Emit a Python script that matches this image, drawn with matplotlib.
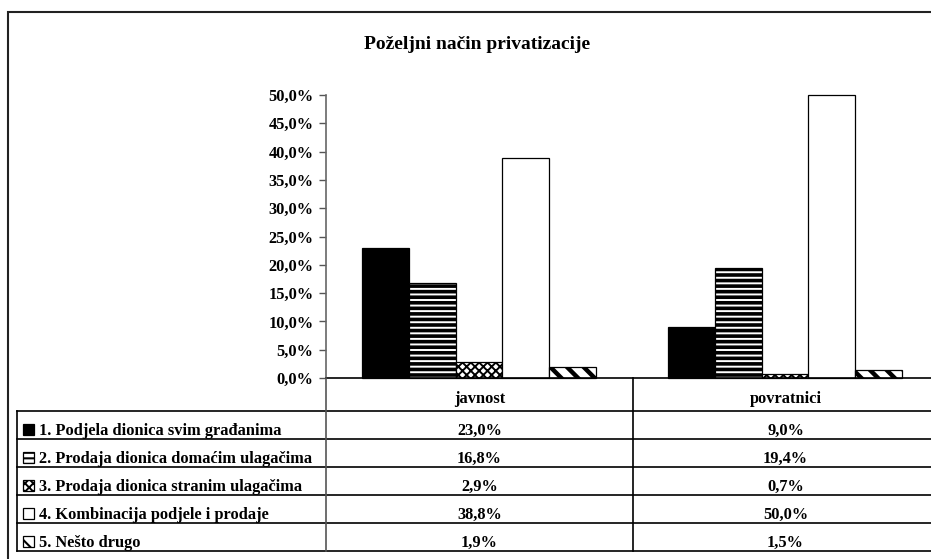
import matplotlib.pyplot as plt
from matplotlib.patches import Rectangle
from matplotlib.lines import Line2D

# datos del grafico
title = "Poželjni način privatizacije"
groups = ["javnost", "povratnici"]
options = [
    "1. Podjela dionica svim građanima",
    "2. Prodaja dionica domaćim ulagačima",
    "3. Prodaja dionica stranim ulagačima",
    "4. Kombinacija podjele i prodaje",
    "5. Nešto drugo",
]
javnost = [23.0, 16.8, 2.9, 38.8, 1.9]
povratnici = [9.0, 19.4, 0.7, 50.0, 1.5]
y_ticks = [0, 5, 10, 15, 20, 25, 30, 35, 40, 45, 50]

# estilo de cada serie: (relleno, hatch, grosor del hatch)
styles = [
    ("black", "", 1.0),
    ("white", "---", 2.6),
    ("white", "xxxx", 1.4),
    ("white", "", 1.0),
    ("white", "\\\\", 3.2),
]

plt.rcParams["font.family"] = ["Liberation Serif", "DejaVu Serif"]
plt.rcParams["font.weight"] = "bold"

W, H = 931, 559
FS = 11.8
fig = plt.figure(figsize=(W / 100, H / 100), dpi=100)


def fx(x):
    return x / W


def fy(y):
    return 1 - y / H


def fmt(v):
    return f"{v:.1f}%".replace(".", ",")


# marco exterior (recortado a la derecha y abajo)
fig.add_artist(Rectangle((fx(8), fy(600)), fx(1000), fy(12) - fy(600), transform=fig.transFigure,
                         fill=False, edgecolor="#222222", linewidth=1.5))

fig.text(fx(477), fy(49), title, ha="center", va="baseline", fontsize=14, fontweight="bold")

# zona de barras
x0, x1, y_top, y0 = 326, 938, 95, 378
ax = fig.add_axes([fx(x0), fy(y0), fx(x1 - x0), fy(y_top) - fy(y0)])
ax.set_xlim(-0.5, 1.5)
ax.set_ylim(0, 50)

width = 47 / 307
data = [javnost, povratnici]
for i, (fc, hatch, hlw) in enumerate(styles):
    vals = [d[i] for d in data]
    xs = [g + (i - 2) * width for g in range(len(groups))]
    with plt.rc_context({"hatch.linewidth": hlw}):
        bars = ax.bar(xs, vals, width, color=fc, edgecolor="black", linewidth=0.9, hatch=hatch or None)
    for b in bars:
        if hasattr(b, "set_hatch_linewidth"):
            b.set_hatch_linewidth(hlw)
        b.set_clip_on(False)

ax.set_yticks(y_ticks)
ax.set_yticklabels([fmt(t) for t in y_ticks], fontsize=FS, fontweight="bold")
ax.tick_params(axis="y", direction="out", length=5, width=1, color="#555555", pad=4)
ax.set_xticks([])
for s in ["top", "right"]:
    ax.spines[s].set_visible(False)
ax.spines["left"].set_color("#666666")
ax.spines["left"].set_linewidth(1.2)
ax.spines["bottom"].set_color("black")
ax.spines["bottom"].set_linewidth(1.2)
ax.patch.set_visible(False)

# tabla de datos
rows = [411, 439, 467, 495, 523, 551]
sep = 633
centers = [(x0 + sep) / 2, (sep + x1) / 2]


def hline(y, xa, xb, c="black"):
    fig.add_artist(Line2D([fx(xa), fx(xb)], [fy(y), fy(y)], transform=fig.transFigure, color=c, linewidth=1.2))


def vline(x, ya, yb, c="black"):
    fig.add_artist(Line2D([fx(x), fx(x)], [fy(ya), fy(yb)], transform=fig.transFigure, color=c, linewidth=1.2))


for r in rows:
    hline(r, 17, 1000)
vline(17, rows[0], rows[-1])
vline(x0, y0, rows[-1], "#555555")
vline(sep, y0, rows[-1])

for g, cx in zip(groups, centers):
    fig.text(fx(cx), fy(403), g, ha="center", va="baseline", fontsize=FS, fontweight="bold")

for i, opt in enumerate(options):
    base = rows[i + 1] - 4
    fc, hatch, hlw = styles[i]
    with plt.rc_context({"hatch.linewidth": min(hlw, 1.5)}):
        key = Rectangle((fx(23), fy(base)), fx(11), fy(base - 11) - fy(base), transform=fig.transFigure,
                        facecolor=fc, edgecolor="black", linewidth=0.9, hatch=hatch or None)
    fig.add_artist(key)
    fig.text(fx(39), fy(base), opt, ha="left", va="baseline", fontsize=FS, fontweight="bold")
    for d, cx in zip(data, centers):
        fig.text(fx(cx), fy(base), fmt(d[i]), ha="center", va="baseline", fontsize=FS, fontweight="bold")

fig.savefig("out.png", dpi=100)
